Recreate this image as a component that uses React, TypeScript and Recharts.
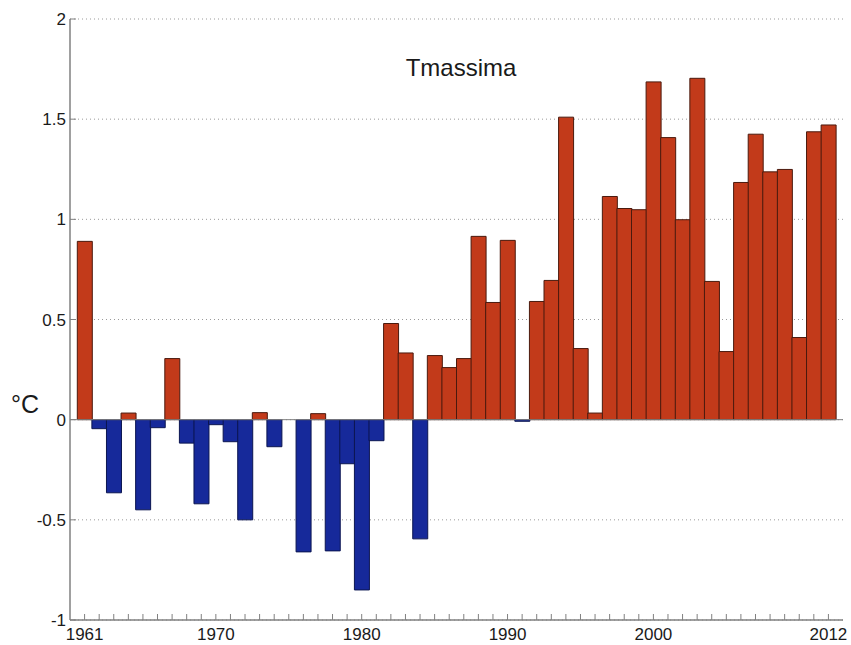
import { BarChart, Bar, XAxis, YAxis, CartesianGrid, ReferenceLine, Cell } from 'recharts';

// Anomalie annue della temperatura massima (°C), 1961-2012
const years = [
  1961, 1962, 1963, 1964, 1965, 1966, 1967, 1968, 1969, 1970,
  1971, 1972, 1973, 1974, 1975, 1976, 1977, 1978, 1979, 1980,
  1981, 1982, 1983, 1984, 1985, 1986, 1987, 1988, 1989, 1990,
  1991, 1992, 1993, 1994, 1995, 1996, 1997, 1998, 1999, 2000,
  2001, 2002, 2003, 2004, 2005, 2006, 2007, 2008, 2009, 2010,
  2011, 2012,
];

const anomalies = [
  0.89, -0.045, -0.365, 0.033, -0.45, -0.04, 0.305, -0.117, -0.42, -0.025,
  -0.11, -0.5, 0.035, -0.135, 0, -0.66, 0.03, -0.655, -0.22, -0.85,
  -0.105, 0.48, 0.333, -0.595, 0.32, 0.26, 0.305, 0.915, 0.585, 0.895,
  -0.008, 0.59, 0.695, 1.51, 0.355, 0.033, 1.114, 1.054, 1.048, 1.686,
  1.408, 0.998, 1.704, 0.69, 0.34, 1.184, 1.425, 1.237, 1.249, 0.41,
  1.437, 1.471,
];

const yearLabels = [1961, 1970, 1980, 1990, 2000, 2012];
const yTicks = [-1, -0.5, 0, 0.5, 1, 1.5, 2];

const chartData = years.map((year, i) => ({ year, value: anomalies[i] }));

const FONT = "'Liberation Sans', Arial, sans-serif";
const AXIS_GRAY = '#808080';
const TEXT = '#1a1a1a';
const WARM = '#c23a1a';
const COLD = '#16299a';

// MATLAB-style ticks: short marks pointing into the plot
function YearTick({ x, y, payload }: any) {
  const show = yearLabels.includes(payload.value);
  return (
    <g>
      <line x1={x} x2={x} y1={y} y2={y - 6} stroke={AXIS_GRAY} />
      {show && (
        <text x={x} y={y + 20} textAnchor="middle" fontSize={17} fill={TEXT} fontFamily={FONT}>
          {payload.value}
        </text>
      )}
    </g>
  );
}

function ValueTick({ x, y, payload }: any) {
  return (
    <g>
      <line x1={x} x2={x + 6} y1={y} y2={y} stroke={AXIS_GRAY} />
      <text x={x - 4} y={y + 6} textAnchor="end" fontSize={17} fill={TEXT} fontFamily={FONT}>
        {String(payload.value)}
      </text>
    </g>
  );
}

export default function App() {
  return (
    <div style={{ position: 'absolute', left: 0, top: 0, width: 851, height: 645, background: '#fff' }}>
      <BarChart
        width={851}
        height={645}
        data={chartData}
        margin={{ top: 19, right: 8, left: 0, bottom: 0 }}
        barCategoryGap={0}
        barGap={0}
      >
        <CartesianGrid horizontal vertical={false} stroke="#9a9a9a" strokeDasharray="1 3" />
        <XAxis
          dataKey="year"
          interval={0}
          tickLine={false}
          tickSize={0}
          tickMargin={0}
          axisLine={{ stroke: AXIS_GRAY, strokeWidth: 1.5 }}
          padding={{ left: 7.3, right: 7.3 }}
          height={25}
          tick={<YearTick />}
        />
        <YAxis
          type="number"
          domain={[-1, 2]}
          ticks={yTicks}
          interval={0}
          width={70}
          tickLine={false}
          tickSize={0}
          tickMargin={0}
          axisLine={{ stroke: AXIS_GRAY, strokeWidth: 1.5 }}
          tick={<ValueTick />}
        />
        <ReferenceLine y={0} stroke={AXIS_GRAY} />
        <Bar dataKey="value" isAnimationActive={false} strokeWidth={1}>
          {chartData.map((d) => (
            <Cell
              key={d.year}
              fill={d.value >= 0 ? WARM : COLD}
              stroke={d.value >= 0 ? '#4a1a0e' : '#0b1550'}
            />
          ))}
        </Bar>
      </BarChart>
      <svg width={851} height={645} style={{ position: 'absolute', left: 0, top: 0, pointerEvents: 'none' }}>
        <text x={461} y={76} textAnchor="middle" fontSize={24} fill={TEXT} fontFamily={FONT}>
          Tmassima
        </text>
        <text x={11} y={413} fontSize={25} fill={TEXT} fontFamily={FONT}>
          °C
        </text>
      </svg>
    </div>
  );
}
